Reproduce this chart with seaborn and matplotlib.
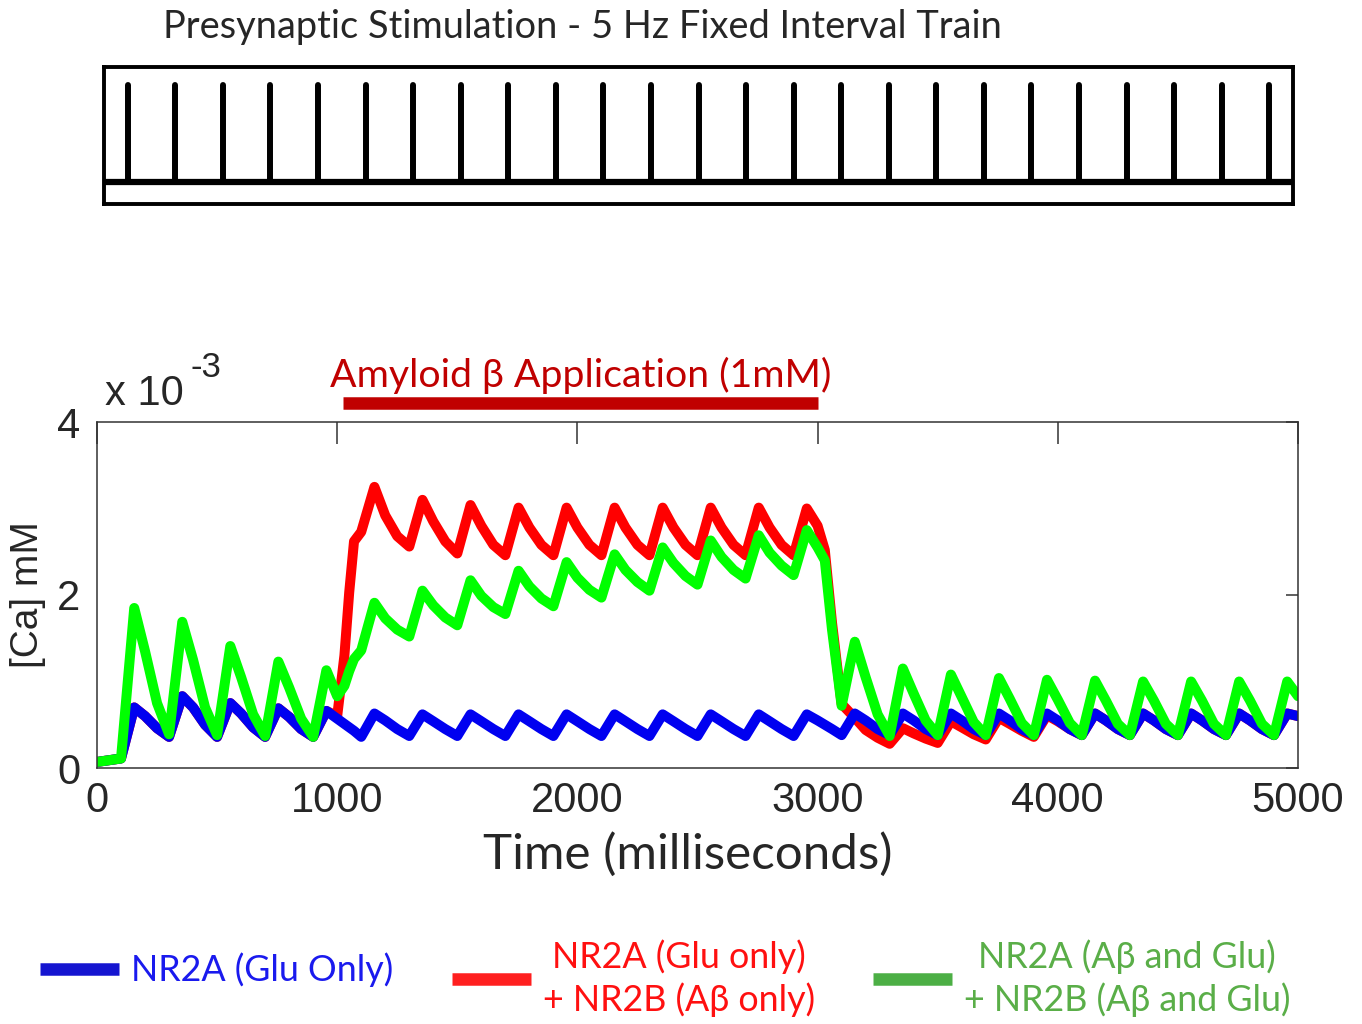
import pandas as pd
import matplotlib.pyplot as plt
from matplotlib.lines import Line2D
from matplotlib import transforms
import seaborn as sns

# stimulation times of the 5 Hz train (ms)
stim_times = [100, 300, 500, 700, 900, 1100, 1300, 1500, 1700, 1900,
              2100, 2300, 2500, 2700, 2900, 3100, 3300, 3500, 3700, 3900,
              4100, 4300, 4500, 4700, 4900]

# amyloid beta application window (ms)
abeta_window = [1025, 3000]

# sample times (ms)
time_ms = [0, 100,
           155, 200, 250, 300,
           355, 400, 450, 500,
           555, 600, 650, 700,
           755, 800, 850, 900,
           955, 1000, 1030, 1050, 1070, 1100,
           1155, 1200, 1250, 1300,
           1355, 1400, 1450, 1500,
           1555, 1600, 1650, 1700,
           1755, 1800, 1850, 1900,
           1955, 2000, 2050, 2100,
           2155, 2200, 2250, 2300,
           2355, 2400, 2450, 2500,
           2555, 2600, 2650, 2700,
           2755, 2800, 2850, 2900,
           2955, 3000, 3030, 3060, 3100,
           3155, 3200, 3250, 3300,
           3355, 3400, 3450, 3500,
           3555, 3600, 3650, 3700,
           3755, 3800, 3850, 3900,
           3955, 4000, 4050, 4100,
           4155, 4200, 4250, 4300,
           4355, 4400, 4450, 4500,
           4555, 4600, 4650, 4700,
           4755, 4800, 4850, 4900,
           4955, 5000]

# [Ca] in units of 1e-3 mM
ca_nr2a = [0.07, 0.11,
           0.70, 0.60, 0.46, 0.36,
           0.83, 0.70, 0.50, 0.36,
           0.75, 0.63, 0.47, 0.36,
           0.69, 0.59, 0.45, 0.36,
           0.66, 0.57, 0.51, 0.47, 0.43, 0.36,
           0.63, 0.55, 0.45, 0.37,
           0.62, 0.54, 0.45, 0.37,
           0.62, 0.54, 0.45, 0.37,
           0.62, 0.54, 0.45, 0.37,
           0.62, 0.54, 0.45, 0.37,
           0.62, 0.54, 0.45, 0.37,
           0.62, 0.54, 0.45, 0.37,
           0.62, 0.54, 0.45, 0.37,
           0.62, 0.54, 0.45, 0.37,
           0.62, 0.55, 0.50, 0.45, 0.38,
           0.63, 0.55, 0.45, 0.38,
           0.63, 0.55, 0.45, 0.38,
           0.63, 0.55, 0.45, 0.38,
           0.63, 0.55, 0.45, 0.38,
           0.63, 0.55, 0.45, 0.38,
           0.63, 0.55, 0.45, 0.38,
           0.63, 0.55, 0.45, 0.38,
           0.63, 0.55, 0.45, 0.38,
           0.63, 0.55, 0.45, 0.38,
           0.63, 0.60]

ca_nr2a_nr2b_abeta = [0.07, 0.11,
                      0.70, 0.60, 0.46, 0.36,
                      0.83, 0.70, 0.50, 0.36,
                      0.75, 0.63, 0.47, 0.36,
                      0.69, 0.59, 0.45, 0.36,
                      0.66, 0.60, 1.30, 2.03, 2.62, 2.73,
                      3.25, 2.92, 2.68, 2.56,
                      3.10, 2.85, 2.62, 2.48,
                      3.04, 2.80, 2.58, 2.46,
                      3.01, 2.78, 2.58, 2.46,
                      3.01, 2.78, 2.58, 2.46,
                      3.01, 2.78, 2.58, 2.46,
                      3.01, 2.78, 2.58, 2.46,
                      3.01, 2.78, 2.58, 2.46,
                      3.01, 2.78, 2.58, 2.46,
                      3.00, 2.80, 2.52, 1.68, 0.74,
                      0.58, 0.44, 0.35, 0.28,
                      0.46, 0.40, 0.34, 0.29,
                      0.54, 0.47, 0.39, 0.33,
                      0.58, 0.51, 0.43, 0.36,
                      0.61, 0.54, 0.45, 0.38,
                      0.63, 0.55, 0.45, 0.38,
                      0.63, 0.55, 0.45, 0.38,
                      0.63, 0.55, 0.45, 0.38,
                      0.63, 0.55, 0.45, 0.38,
                      0.63, 0.60]

ca_both_abeta_glu = [0.07, 0.11,
                     1.85, 1.35, 0.75, 0.39,
                     1.69, 1.25, 0.70, 0.38,
                     1.41, 1.05, 0.62, 0.37,
                     1.23, 0.93, 0.57, 0.36,
                     1.13, 0.83, 0.95, 1.12, 1.26, 1.36,
                     1.91, 1.73, 1.60, 1.52,
                     2.05, 1.88, 1.74, 1.65,
                     2.17, 1.99, 1.86, 1.78,
                     2.28, 2.10, 1.96, 1.87,
                     2.38, 2.20, 2.06, 1.97,
                     2.47, 2.29, 2.15, 2.05,
                     2.55, 2.37, 2.22, 2.12,
                     2.63, 2.44, 2.29, 2.19,
                     2.69, 2.49, 2.34, 2.23,
                     2.75, 2.55, 2.40, 1.60, 0.72,
                     1.46, 1.05, 0.62, 0.37,
                     1.15, 0.86, 0.55, 0.38,
                     1.08, 0.82, 0.53, 0.38,
                     1.04, 0.80, 0.52, 0.38,
                     1.02, 0.79, 0.52, 0.38,
                     1.01, 0.78, 0.51, 0.38,
                     1.00, 0.78, 0.51, 0.38,
                     1.00, 0.78, 0.51, 0.38,
                     1.00, 0.78, 0.51, 0.38,
                     1.00, 0.83]

labels = ['NR2A (Glu Only)',
          'NR2A (Glu only)\n+ NR2B (A\u03b2 only)',
          'NR2A (A\u03b2 and Glu)\n+ NR2B (A\u03b2 and Glu)']

df = pd.concat([
    pd.DataFrame({'time': time_ms, 'ca': ca_nr2a_nr2b_abeta, 'series': 'red'}),
    pd.DataFrame({'time': time_ms, 'ca': ca_nr2a, 'series': 'blue'}),
    pd.DataFrame({'time': time_ms, 'ca': ca_both_abeta_glu, 'series': 'green'}),
])

sns.set_style('white')
calibri_like = ['Lato', 'DejaVu Sans']
arial_like = ['Liberation Sans', 'DejaVu Sans']
plt.rcParams['font.family'] = arial_like

fig = plt.figure(figsize=(13.62, 10.24), dpi=100)

# stimulation train panel
ax0 = fig.add_axes([104/1362, 1-204/1024, 1189/1362, 137/1024])
ax0.vlines(stim_times, 0.16, 0.87, color='black', lw=4.3, capstyle='round')
ax0.axhline(0.16, color='black', lw=4.5)
ax0.set_xlim(0, 5000)
ax0.set_ylim(0, 1)
ax0.set_xticks([])
ax0.set_yticks([])
for s in ax0.spines.values():
    s.set_visible(True)
    s.set_linewidth(2.8)
    s.set_color('black')
fig.text(163/1362, 1-38/1024, 'Presynaptic Stimulation - 5 Hz Fixed Interval Train',
         family=calibri_like, fontsize=27.4, va='baseline', ha='left')

# calcium traces
ax = fig.add_axes([97/1362, 1-768/1024, 1201/1362, 346/1024])
sns.lineplot(data=df, x='time', y='ca', hue='series', hue_order=['red', 'blue', 'green'],
             palette={'red': '#ff0000', 'blue': '#0000f0', 'green': '#00ff00'},
             estimator=None, sort=False, lw=7.2, legend=False, ax=ax,
             solid_joinstyle='round', solid_capstyle='round')
ax.set_xlim(0, 5000)
ax.set_ylim(0, 4)
ax.set_xticks([0, 1000, 2000, 3000, 4000, 5000])
ax.set_yticks([0, 2, 4])
ax.tick_params(axis='both', direction='in', top=True, right=True, labelsize=30,
               color='#333333', width=1.1)
ax.tick_params(axis='x', length=16, pad=9)
ax.tick_params(axis='y', length=9, pad=12)
for s in ax.spines.values():
    s.set_linewidth(1.1)
    s.set_color('#333333')
ax.set_xlabel('Time (milliseconds)', family=calibri_like, fontsize=35.5)
ax.xaxis.set_label_coords(0.492, -0.185)
ax.xaxis.label.set_va('top')
ax.set_ylabel('[Ca] mM', fontsize=28, labelpad=8)
ax.text(0.007, 1.049, 'x 10', transform=ax.transAxes, fontsize=30, va='baseline')
ax.text(0.078, 1.13, '-3', transform=ax.transAxes, fontsize=25, va='baseline')

# amyloid beta application bar
tr = transforms.blended_transform_factory(ax.transData, ax.transAxes)
ax.plot(abeta_window, [1.055, 1.055], transform=tr, color='#c00000', lw=9,
        solid_capstyle='butt', clip_on=False)
ax.text(sum(abeta_window) / 2, 1.10, 'Amyloid \u03b2 Application (1mM)', transform=tr,
        ha='center', va='baseline', color='#c00000', family=calibri_like, fontsize=28.3)

# legend
handle_colors = ['#1515d0', '#ff1f1f', '#4caf45']
text_colors = ['#1a1aee', '#ff1010', '#5aae48']
anchors = [(40/1362, 1-970/1024), (452/1362, 1-978/1024), (873/1362, 1-978/1024)]
for lab, hc, tc, anc in zip(labels, handle_colors, text_colors, anchors):
    leg = fig.legend([Line2D([], [], color=hc, lw=9, solid_capstyle='butt')], [lab],
                     loc='center left', bbox_to_anchor=anc, frameon=False,
                     borderpad=0, borderaxespad=0, handlelength=2.2, handletextpad=0.33,
                     prop={'family': calibri_like, 'size': 25.8}, labelcolor=tc)
    for t in leg.get_texts():
        t.set_multialignment('center')
        t.set_linespacing(1.3)

fig.savefig('out.png', dpi=100)
